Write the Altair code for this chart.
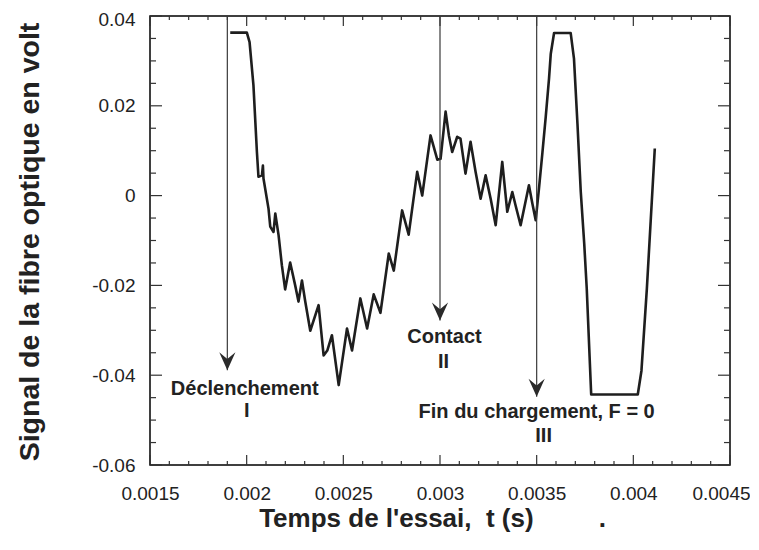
import altair as alt
import pandas as pd

# ---- signal trace (time in s, signal in V) ----
T = [0.001915, 0.002001, 0.002015, 0.002035, 0.002053, 0.002061, 0.002079, 0.002084,
     0.002087, 0.002113, 0.002122, 0.002139, 0.002148, 0.002165, 0.002182, 0.002199,
     0.002225, 0.002251, 0.002268, 0.002286, 0.002303, 0.002329, 0.002372, 0.002398,
     0.002417, 0.002441, 0.002476, 0.002519, 0.002545, 0.002588, 0.002623, 0.002657,
     0.002692, 0.002735, 0.002761, 0.002804, 0.002838, 0.002882, 0.002908, 0.002951,
     0.002986, 0.003003, 0.003029, 0.003046, 0.003063, 0.003089, 0.003106, 0.003132,
     0.003158, 0.003184, 0.003210, 0.003236, 0.003262, 0.003288, 0.003322, 0.003348,
     0.003374, 0.003391, 0.003417, 0.003460, 0.003478, 0.003495, 0.003512, 0.003530,
     0.003547, 0.003564, 0.003573, 0.003590, 0.003676, 0.003693, 0.003711, 0.003728,
     0.003746, 0.003759, 0.003782, 0.004023, 0.004042, 0.004070, 0.004111]
V = [0.0363, 0.0363, 0.0342, 0.0246, 0.0097, 0.0042, 0.0045, 0.0067,
     0.0038, -0.0029, -0.0069, -0.0081, -0.0040, -0.0088, -0.0155, -0.0209,
     -0.0149, -0.0200, -0.0236, -0.0189, -0.0236, -0.0301, -0.0244, -0.0356,
     -0.0345, -0.0311, -0.0422, -0.0296, -0.0345, -0.0229, -0.0296, -0.0220,
     -0.0261, -0.0129, -0.0167, -0.0033, -0.0087, 0.0053, 0.0000, 0.0134,
     0.0080, 0.0082, 0.0187, 0.0134, 0.0097, 0.0131, 0.0127, 0.0049,
     0.0120, 0.0053, -0.0007, 0.0045, -0.0007, -0.0066, 0.0075, -0.0036,
     0.0008, -0.0022, -0.0066, 0.0023, -0.0018, -0.0055, 0.0016, 0.0097,
     0.0176, 0.0261, 0.0316, 0.0362, 0.0362, 0.0305, 0.0160, 0.0009,
     -0.0107, -0.0207, -0.0443, -0.0443, -0.0390, -0.0207, 0.0105]

# ---- annotation arrows ----
ARROW_T = [0.0019, 0.003, 0.0035]
ARROW_TOP = [0.04, 0.04, 0.04]
ARROW_TIP = [-0.0389, -0.0278, -0.0448]

LABEL_TEXT = ["Déclenchement", "I", "Contact", "II", "Fin du chargement, F = 0", "III"]
LABEL_T = [0.00199, 0.002, 0.003023, 0.003018, 0.0035, 0.003536]
LABEL_V = [-0.0430, -0.0479, -0.0316, -0.0370, -0.0481, -0.0535]

# ---- axis ticks ----
X_MAJOR = [0.0015, 0.002, 0.0025, 0.003, 0.0035, 0.004, 0.0045]
X_MINOR = [0.0016, 0.0017, 0.0018, 0.0019, 0.0021, 0.0022, 0.0023, 0.0024,
           0.0026, 0.0027, 0.0028, 0.0029, 0.0031, 0.0032, 0.0033, 0.0034,
           0.0036, 0.0037, 0.0038, 0.0039, 0.0041, 0.0042, 0.0043, 0.0044]
Y_MAJOR = [-0.06, -0.04, -0.02, 0, 0.02, 0.04]
Y_MINOR = [-0.055, -0.05, -0.045, -0.035, -0.03, -0.025, -0.015, -0.01, -0.005,
           0.005, 0.01, 0.015, 0.025, 0.03, 0.035]

W, H = 580, 449
FONT = "Liberation Sans"
INK = "#1e1e1e"
TICK = "#333333"

xscale = alt.Scale(domain=[0.0015, 0.0045], nice=False, zero=False)
yscale = alt.Scale(domain=[-0.06, 0.04], nice=False, zero=False)
minus_fix = "replace(datum.label, '\u2212', '-')"

xaxis = alt.Axis(values=X_MAJOR, format="~g", labelExpr=minus_fix, ticks=False, tickSize=0,
                 domain=False, grid=False, labelFont=FONT, labelFontSize=19, labelColor="#222",
                 labelPadding=19, labelFlush=False, labelOverlap=False,
                 labelOffset={"condition": {"test": "datum.value > 0.00449", "value": -9}, "value": 0},
                 title="Temps de l'essai,\u00a0\u00a0t (s)" + "\u00a0" * 9 + ".",
                 titleFont=FONT, titleFontSize=26, titleFontWeight="bold", titleColor="#222",
                 titleX=282, titleY=53, titleAlign="center", titleBaseline="middle")
yaxis = alt.Axis(values=Y_MAJOR, format="~g", labelExpr=minus_fix, ticks=False, tickSize=0,
                 domain=False, grid=False, labelFont=FONT, labelFontSize=19, labelColor="#222",
                 labelPadding=15, labelFlush=False, labelOverlap=False,
                 labelOffset={"condition": {"test": "datum.value > 0.0399", "value": 3}, "value": 0},
                 title="Signal de la fibre optique en volt",
                 titleFont=FONT, titleFontSize=28.5, titleFontWeight="bold", titleColor="#222",
                 titleX=-121, titleY=H / 2 + 1, titleAlign="center", titleBaseline="middle",
                 titleAngle=270)

X_ENC = alt.X("t:Q", scale=xscale, axis=xaxis)
Y_ENC = alt.Y("v:Q", scale=yscale, axis=yaxis)

curve_df = pd.DataFrame({"t": T, "v": V, "i": list(range(len(T)))})
curve = alt.Chart(curve_df).mark_line(color=INK, strokeWidth=2.6, strokeJoin="round").encode(
    x=X_ENC, y=Y_ENC, order=alt.Order("i:Q"),
)


def x_ticks(vals, length):
    d = pd.DataFrame({"t": vals})
    b = alt.Chart(d).mark_rule(color=TICK, strokeWidth=1.2)
    return [b.encode(x=X_ENC, y=alt.value(H), y2=alt.value(H - length)),
            b.encode(x=X_ENC, y=alt.value(0), y2=alt.value(length))]


def y_ticks(vals, length):
    d = pd.DataFrame({"v": vals})
    b = alt.Chart(d).mark_rule(color=TICK, strokeWidth=1.2)
    return [b.encode(y=Y_ENC, x=alt.value(0), x2=alt.value(length)),
            b.encode(y=Y_ENC, x=alt.value(W), x2=alt.value(W - length))]


ticks = x_ticks(X_MAJOR, 10) + x_ticks(X_MINOR, 4) + y_ticks(Y_MAJOR, 12) + y_ticks(Y_MINOR, 6)

arrow_df = pd.DataFrame({"t": ARROW_T, "v": ARROW_TOP, "v2": ARROW_TIP})
arrow_lines = alt.Chart(arrow_df).mark_rule(color="#3a3a3a", strokeWidth=1.2).encode(
    x=X_ENC, y=Y_ENC, y2="v2:Q",
)
heads = alt.Chart(arrow_df).mark_point(
    shape="M0,0 L-0.45,-1 L0,-0.62 L0.45,-1 Z", filled=True, size=1296,
    color="#2a2a2a", opacity=1, strokeWidth=0,
).encode(
    x=X_ENC, y=alt.Y("v2:Q", scale=yscale, axis=yaxis),
)

label_df = pd.DataFrame({"t": LABEL_T, "v": LABEL_V, "txt": LABEL_TEXT})
labels = alt.Chart(label_df).mark_text(
    font=FONT, fontWeight="bold", fontSize=20, color="#222", align="center", baseline="middle"
).encode(
    x=X_ENC, y=Y_ENC, text="txt:N",
)

chart = alt.layer(curve, *ticks, arrow_lines, heads, labels).properties(
    width=W, height=H,
    autosize=alt.AutoSizeParams(type="none"),
    padding={"left": 142, "top": 8, "right": 20, "bottom": 70},
    background="white",
).configure_view(stroke="black", strokeWidth=1.5)

chart.save("out.html", embed_options={"renderer": "svg", "actions": False})
